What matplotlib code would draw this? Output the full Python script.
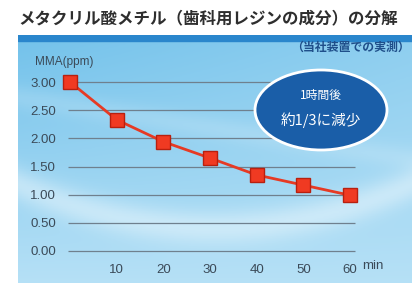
import numpy as np
import matplotlib
matplotlib.use("Agg")
import matplotlib.pyplot as plt
from matplotlib.patches import Ellipse, Rectangle

plt.rcParams['font.family'] = ['Noto Sans CJK JP', 'DejaVu Sans']

minutes = [0, 10, 20, 30, 40, 50, 60]
mma = [3.00, 2.33, 1.94, 1.65, 1.35, 1.17, 0.99]
yticks = [0.0, 0.5, 1.0, 1.5, 2.0, 2.5, 3.0]
ytick_labels = ['0.00', '0.50', '1.00', '1.50', '2.00', '2.50', '3.00']
xticks = [10, 20, 30, 40, 50, 60]

W, H = 417, 283
fig = plt.figure(figsize=(W / 100, H / 100), dpi=100)
fig.patch.set_facecolor('white')

def fx(px):
    return px / W

def fy(py):
    return 1 - py / H

# background panel with gradient, coordinates in pixels
bg = fig.add_axes([fx(18), 0, fx(412) - fx(18), fy(35)])
bg.set_axis_off()
bg.set_xlim(18, 412)
bg.set_ylim(283, 35)
ny, nx = 100, 200
yy, xx = np.mgrid[0:1:ny * 1j, 0:1:nx * 1j]
top = np.array([0.45, 0.76, 0.92])
bottom = np.array([0.80, 0.92, 0.98])
t = np.clip(0.75 * yy + 0.3 * xx * (1 - yy), 0, 1)[..., None]
img = top * (1 - t) + bottom * t
# light streaks
streak = np.exp(-((yy - 0.78 + 0.7 * (xx - 0.5) ** 2) / 0.07) ** 2) * 0.4
streak += np.exp(-((yy - 0.25 - 0.25 * xx) / 0.05) ** 2) * 0.15
img = img + streak[..., None] * (1 - img)
bg.imshow(img, extent=[18, 412, 283, 35], aspect='auto', origin='upper')
bg.add_patch(Rectangle((18, 35), 394, 6, color='#2a86cc', zorder=2))
bg.set_xlim(18, 412)
bg.set_ylim(283, 35)

fig.text(fx(18), fy(18), 'メタクリル酸メチル（歯科用レジンの成分）の分解',
         fontsize=11.9, fontweight='bold', color='#2e2e2e', va='center', ha='left')
fig.text(fx(410), fy(47), '（当社装置での実測）', fontsize=8.6, fontweight='bold',
         color='#1f4f8a', va='center', ha='right')

# main axes
ax = fig.add_axes([fx(60), fy(260), fx(370) - fx(60), fy(70) - fy(260)])
ax.set_facecolor('none')
xmin = -10 / 4.667
xmax = 60 + 20 / 4.667
ax.set_xlim(xmin, xmax)
ax.set_ylim(-9 / 56.3, 3 + 12 / 56.3)
for s in ax.spines.values():
    s.set_visible(False)

ax.hlines(yticks, -0.5, 61, color='#6f808e', lw=0.9, zorder=1)
ax.plot(minutes, mma, color='#e63a24', lw=2, zorder=2)
ax.plot(minutes, mma, ls='none', marker='s', ms=10, mfc='#f03a22',
        mec='#b8200f', mew=1.0, zorder=3)

ax.set_yticks(yticks)
ax.set_yticklabels(ytick_labels)
ax.set_xticks(xticks)
ax.set_xticklabels([str(v) for v in xticks])
ax.tick_params(length=0, labelsize=9.5, colors='#3b4a58', pad=3)
for lab in ax.get_xticklabels():
    lab.set_family(['Liberation Sans', 'DejaVu Sans'])
for lab in ax.get_yticklabels():
    lab.set_family(['Liberation Sans', 'DejaVu Sans'])
fig.text(fx(362), fy(266), 'min', fontsize=9.5, color='#3b4a58', va='center',
         ha='left', family=['Liberation Sans', 'DejaVu Sans'])
fig.text(fx(35), fy(62), 'MMA(ppm)', fontsize=8.5, color='#3b4a58', va='center',
         ha='left', family=['Liberation Sans', 'DejaVu Sans'])

# ellipse callout, on a top overlay axes in pixel coordinates
ov = fig.add_axes([0, 0, 1, 1])
ov.set_axis_off()
ov.set_xlim(0, W)
ov.set_ylim(H, 0)
ov.add_patch(Ellipse((321, 110), 132, 80, facecolor='#1a5ea8',
                     edgecolor='white', lw=2))
ov.text(321, 95, '1時間後', fontsize=8.5, color='white', ha='center', va='center')
ov.text(321, 120, '約1/3に減少', fontsize=10.5, color='white', ha='center',
        va='center')

fig.savefig('out.png', dpi=100)
